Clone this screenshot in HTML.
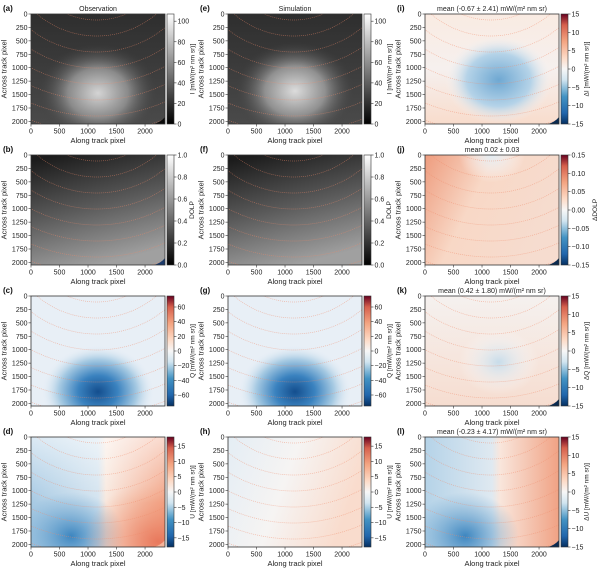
<!DOCTYPE html>
<html><head><meta charset="utf-8">
<style>
html,body{margin:0;padding:0;background:#fff;width:600px;height:570px;overflow:hidden}
svg{font-family:"Liberation Sans","DejaVu Sans",sans-serif}
</style></head>
<body>
<svg id="fig" width="600" height="570" viewBox="0 0 600 570" xmlns="http://www.w3.org/2000/svg">
<defs id="defs">
<linearGradient id="cb-gray" x1="0" y1="1" x2="0" y2="0"><stop offset="0" stop-color="#000"/><stop offset="1" stop-color="#fff"/></linearGradient>
<linearGradient id="cb-rdbu" x1="0" y1="1" x2="0" y2="0">
<stop offset="0" stop-color="#053061"/><stop offset="0.1" stop-color="#2166ac"/><stop offset="0.25" stop-color="#4393c3"/><stop offset="0.4" stop-color="#d1e5f0"/><stop offset="0.5" stop-color="#f7f7f7"/><stop offset="0.6" stop-color="#fddbc7"/><stop offset="0.75" stop-color="#f4a582"/><stop offset="0.9" stop-color="#d6604d"/><stop offset="1" stop-color="#67001f"/></linearGradient>
<radialGradient id="g-i-obs" cx="0.5" cy="0.72" r="0.45"><stop offset="0" stop-color="#d4d4d4"/><stop offset="0.5" stop-color="#8a8a8a"/><stop offset="1" stop-color="#404040" stop-opacity="0"/></radialGradient>
<radialGradient id="g-i-sim" cx="0.5" cy="0.7" r="0.45"><stop offset="0" stop-color="#dcdcdc"/><stop offset="0.5" stop-color="#909090"/><stop offset="1" stop-color="#404040" stop-opacity="0"/></radialGradient>
<linearGradient id="g-i-base" x1="0" y1="0" x2="0" y2="1"><stop offset="0" stop-color="#2e2e2e"/><stop offset="1" stop-color="#4a4a4a"/></linearGradient>
<linearGradient id="g-dolp" x1="0.2" y1="0" x2="0.5" y2="1"><stop offset="0" stop-color="#1c1c1c"/><stop offset="0.5" stop-color="#5a5a5a"/><stop offset="1" stop-color="#a0a0a0"/></linearGradient>
<radialGradient id="g-q" cx="0.5" cy="0.87" r="0.42"><stop offset="0" stop-color="#144e8e"/><stop offset="0.35" stop-color="#3a82bf"/><stop offset="0.7" stop-color="#a8cbe3"/><stop offset="1" stop-color="#e6eef6" stop-opacity="0"/></radialGradient>
<linearGradient id="g-u-obs" x1="0" y1="0" x2="1" y2="0"><stop offset="0" stop-color="#a6c9e3"/><stop offset="0.5" stop-color="#d3e3ef"/><stop offset="0.56" stop-color="#f8e8de"/><stop offset="1" stop-color="#f2a385"/></linearGradient>
<linearGradient id="g-u-obs-v" x1="0" y1="0" x2="0" y2="1"><stop offset="0" stop-color="#fff" stop-opacity="0.6"/><stop offset="0.6" stop-color="#fff" stop-opacity="0"/></linearGradient>
<radialGradient id="g-u-blue" cx="0.3" cy="0.9" r="0.4"><stop offset="0" stop-color="#3d86c0"/><stop offset="1" stop-color="#6aa5d0" stop-opacity="0"/></radialGradient>
<radialGradient id="g-u-red" cx="0.95" cy="0.95" r="0.55"><stop offset="0" stop-color="#e8785c"/><stop offset="1" stop-color="#f4a582" stop-opacity="0"/></radialGradient>
<linearGradient id="g-u-sim" x1="0" y1="0" x2="1" y2="0.3"><stop offset="0" stop-color="#e4edf4"/><stop offset="0.5" stop-color="#f6f4f3"/><stop offset="1" stop-color="#f9dccd"/></linearGradient>
<radialGradient id="g-di" cx="0.55" cy="0.6" r="0.4"><stop offset="0" stop-color="#6fa8d2"/><stop offset="0.6" stop-color="#b5d3e8"/><stop offset="1" stop-color="#f4f4f4" stop-opacity="0"/></radialGradient>
<linearGradient id="g-di-base" x1="0" y1="0" x2="0" y2="1"><stop offset="0" stop-color="#f9ebe2"/><stop offset="0.5" stop-color="#f6f0ee"/><stop offset="1" stop-color="#f8dccc"/></linearGradient>
<linearGradient id="g-ddolp" x1="0" y1="0" x2="1" y2="0.4"><stop offset="0" stop-color="#ee9c7e"/><stop offset="0.45" stop-color="#f8d8c6"/><stop offset="1" stop-color="#f6dccf"/></linearGradient>
<radialGradient id="g-ddolp-b" cx="0.5" cy="0" r="0.25"><stop offset="0" stop-color="#e2ecf3"/><stop offset="1" stop-color="#fff" stop-opacity="0"/></radialGradient>
<linearGradient id="g-dq" x1="0" y1="0" x2="0" y2="1"><stop offset="0" stop-color="#f5f1ef"/><stop offset="1" stop-color="#f6ddd0"/></linearGradient>
<radialGradient id="g-dq-b" cx="0.55" cy="0.6" r="0.3"><stop offset="0" stop-color="#c7dcea"/><stop offset="1" stop-color="#fff" stop-opacity="0"/></radialGradient>
<linearGradient id="g-du" x1="0" y1="0" x2="1" y2="0"><stop offset="0" stop-color="#b5d3e8"/><stop offset="0.5" stop-color="#dfe9f1"/><stop offset="0.56" stop-color="#f9e6dc"/><stop offset="1" stop-color="#f0a284"/></linearGradient>
</defs>
<g id="root"></g>
</svg>
<script>
const xTicks = [0, 500, 1000, 1500, 2000];
const yTicks = [0, 250, 500, 750, 1000, 1250, 1500, 1750, 2000];
const xMax = 2350, yMax = 2048;
const contourRadii = [76, 92, 108, 124, 140, 156, 172, 188];
const panelIds = ['a','b','c','d','e','f','g','h','i','j','k','l'];
const cbTicksI = [0, 20, 40, 60, 80, 100];
const cbTicksDolp = [0.0, 0.2, 0.4, 0.6, 0.8, 1.0];
const cbTicksQ = [-60, -40, -20, 0, 20, 40, 60];
const cbTicksU = [-15, -10, -5, 0, 5, 10, 15];
const cbTicksD = [-15, -10, -5, 0, 5, 10, 15];
const cbTicksDD = [-0.15, -0.10, -0.05, 0.00, 0.05, 0.10, 0.15];

const NS = 'http://www.w3.org/2000/svg';
const root = document.getElementById('root');
const defs = document.getElementById('defs');
function mk(tag, attrs, parent){const e=document.createElementNS(NS,tag);for(const k in attrs)e.setAttribute(k,attrs[k]);(parent||root).appendChild(e);return e;}

const colX = [31, 228, 425], rowY = [14, 155, 296, 437], W = 134, H = 110;
const unit = ' [mW/(m² nm sr)]';
const specs = {
 a:{fills:['url(#g-i-base)','url(#g-i-obs)'],cb:'gray',ticks:cbTicksI,lo:0,hi:107,lab:'I'+unit,title:'Observation',dec:0,corner:'#0a0a0a'},
 e:{fills:['url(#g-i-base)','url(#g-i-sim)'],cb:'gray',ticks:cbTicksI,lo:0,hi:107,lab:'I'+unit,title:'Simulation',dec:0},
 b:{fills:['url(#g-dolp)'],cb:'gray',ticks:cbTicksDolp,lo:0,hi:1,lab:'DOLP',dec:1,corner:'#1a3a6a'},
 f:{fills:['url(#g-dolp)'],cb:'gray',ticks:cbTicksDolp,lo:0,hi:1,lab:'DOLP',dec:1},
 c:{fills:['#e8eff6','url(#g-q)'],cb:'rdbu',ticks:cbTicksQ,lo:-75,hi:75,lab:'Q'+unit,dec:0},
 g:{fills:['#e8eff6','url(#g-q)'],cb:'rdbu',ticks:cbTicksQ,lo:-75,hi:75,lab:'Q'+unit,dec:0},
 d:{fills:['url(#g-u-obs)','url(#g-u-blue)','url(#g-u-red)','url(#g-u-obs-v)'],cb:'rdbu',ticks:cbTicksU,lo:-18,hi:18,lab:'U'+unit,dec:0,corner:'#f4b49a'},
 h:{fills:['url(#g-u-sim)'],cb:'rdbu',ticks:cbTicksU,lo:-18,hi:18,lab:'U'+unit,dec:0},
 i:{fills:['url(#g-di-base)','url(#g-di)'],cb:'rdbu',ticks:cbTicksD,lo:-15,hi:15,lab:'ΔI'+unit,title:'mean (-0.67 ± 2.41) mW/(m² nm sr)',dec:0,corner:'#0a2a50'},
 j:{fills:['url(#g-ddolp)','url(#g-ddolp-b)'],cb:'rdbu',ticks:cbTicksDD,lo:-0.15,hi:0.15,lab:'ΔDOLP',title:'mean 0.02 ± 0.03',dec:2,corner:'#0a2a50'},
 k:{fills:['url(#g-dq)','url(#g-dq-b)'],cb:'rdbu',ticks:cbTicksD,lo:-15,hi:15,lab:'ΔQ'+unit,title:'mean (0.42 ± 1.80) mW/(m² nm sr)',dec:0,corner:'#0a2a50'},
 l:{fills:['url(#g-du)','url(#g-u-blue)'],cb:'rdbu',ticks:cbTicksD,lo:-15,hi:15,lab:'ΔU'+unit,title:'mean (-0.23 ± 4.17) mW/(m² nm sr)',dec:0,corner:'#0a2a50'}
};
function fmt(v,d){const s=Math.abs(v).toFixed(d);return (v<0?'−':'')+s;}

panelIds.forEach((id,n)=>{
 const col=Math.floor(n/4), row=n%4, x0=colX[col], y0=rowY[row], sp=specs[id];
 const g=mk('g',{});
 
 
 const sx=v=>x0+v/xMax*W, sy=v=>y0+v/yMax*H;
 const cp=mk('clipPath',{id:'clip-'+id},defs); mk('rect',{x:x0,y:y0,width:W,height:H},cp);
 const img=mk('g',{'clip-path':'url(#clip-'+id+')'},g);
 
 
 sp.fills.forEach(f=>mk('rect',{x:x0,y:y0,width:W,height:H,fill:f},img));
 const cx=x0+W*0.49, cy=y0-70;
 contourRadii.forEach(r=>{
  const c=mk('circle',{cx:cx,cy:cy,r:r,fill:'none',stroke:'#f08a6a','stroke-width':0.7,'stroke-dasharray':'1 1',opacity:0.55},img);
  
  
 });
 if(sp.corner) mk('path',{d:`M${x0+W} ${y0+H-7} Q${x0+W-4} ${y0+H-2} ${x0+W-11} ${y0+H} L${x0+W} ${y0+H}Z`,fill:sp.corner},img);
 mk('rect',{x:x0,y:y0,width:W,height:H,fill:'none',stroke:'#333','stroke-width':0.8},g);
 xTicks.forEach(t=>{
  mk('line',{x1:sx(t),x2:sx(t),y1:y0+H,y2:y0+H+2.5,stroke:'#333','stroke-width':0.6},g);
  const tx=mk('text',{x:sx(t),y:y0+H+9.5,'font-size':7,'text-anchor':'middle',fill:'#222'},g); tx.textContent=t;
 });
 yTicks.forEach(t=>{
  mk('line',{x1:x0,x2:x0-2.5,y1:sy(t),y2:sy(t),stroke:'#333','stroke-width':0.6},g);
  const tx=mk('text',{x:x0-3.5,y:sy(t)+2.5,'font-size':7,'text-anchor':'end',fill:'#222'},g); tx.textContent=t;
 });
 const xl=mk('text',{x:x0+W/2,y:y0+H+19,'font-size':7.5,'text-anchor':'middle',fill:'#222'},g); xl.textContent='Along track pixel';
  
 const yl=mk('text',{transform:`translate(${x0-24.5},${y0+H/2}) rotate(-90)`,'font-size':7.5,'text-anchor':'middle',fill:'#222'},g); yl.textContent='Across track pixel';
  
 const pl=mk('text',{x:x0-28,y:y0-3,'font-size':8,'font-weight':'bold',fill:'#111'},g); pl.textContent='('+id+')';
  
 if(sp.title){const tt=mk('text',{x:x0+W/2,y:y0-3,'font-size':7,'text-anchor':'middle',fill:'#222'},g); tt.textContent=sp.title;
   }
 const bx=x0+W+2, cbw=7;
 const cb=mk('rect',{x:bx,y:y0,width:cbw,height:H,fill:'url(#cb-'+sp.cb+')',stroke:'#333','stroke-width':0.6},g);
  
 const cyv=v=>y0+H-(v-sp.lo)/(sp.hi-sp.lo)*H;
 sp.ticks.forEach(t=>{
  mk('line',{x1:bx+cbw,x2:bx+cbw+2.5,y1:cyv(t),y2:cyv(t),stroke:'#333','stroke-width':0.6},g);
  const tx=mk('text',{x:bx+cbw+3.5,y:cyv(t)+2.5,'font-size':7,fill:'#222'},g); tx.textContent=fmt(t,sp.dec);
 });
 const off = sp.dec===2 ? 29 : (sp.dec===1 ? 20 : 20.5);
 const cl=mk('text',{transform:`translate(${bx+cbw+off},${y0+H/2}) rotate(-90)`,'font-size':6.5,'text-anchor':'middle',fill:'#222'},g); cl.textContent=sp.lab;
  
});
</script>
</body></html>
